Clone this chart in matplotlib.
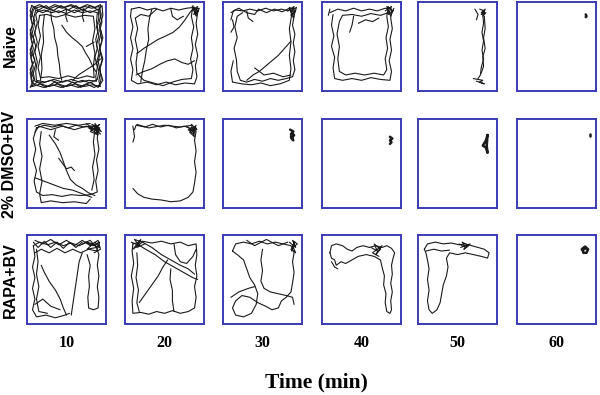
import matplotlib
matplotlib.use("Agg")
import matplotlib.pyplot as plt

# ---------------- data: tracked paths (normalised arena coords, y up) ----------------
groups = ["Naive", "2% DMSO+BV", "RAPA+BV"]
times = ["10", "20", "30", "40", "50", "60"]
xlabel = "Time (min)"

naive_10 = [
    [(0.10,0.93),(0.18,0.95),(0.27,0.92),(0.36,0.95),(0.45,0.93),(0.55,0.96),(0.64,0.92),(0.73,0.95),(0.82,0.93),(0.91,0.95),(0.94,0.86),(0.91,0.76),(0.94,0.66),(0.91,0.55),(0.93,0.44),(0.90,0.33),(0.93,0.22),(0.91,0.11),(0.93,0.05),(0.83,0.07),(0.72,0.05),(0.61,0.08),(0.50,0.05),(0.39,0.08),(0.28,0.05),(0.17,0.08),(0.07,0.05),(0.05,0.15),(0.08,0.26),(0.05,0.37),(0.08,0.48),(0.05,0.59),(0.08,0.70),(0.05,0.81),(0.08,0.91),(0.10,0.93)],
    [(0.13,0.89),(0.22,0.91),(0.31,0.88),(0.40,0.90),(0.50,0.87),(0.60,0.91),(0.70,0.88),(0.80,0.90),(0.89,0.88),(0.88,0.78),(0.90,0.68),(0.87,0.58),(0.89,0.48),(0.86,0.38),(0.89,0.27),(0.87,0.16),(0.88,0.11),(0.78,0.12),(0.67,0.10),(0.56,0.13),(0.45,0.10),(0.34,0.13),(0.23,0.10),(0.12,0.12),(0.11,0.22),(0.13,0.33),(0.10,0.44),(0.13,0.55),(0.10,0.66),(0.13,0.77),(0.11,0.86),(0.13,0.89)],
    [(0.06,0.96),(0.15,0.91),(0.24,0.96),(0.33,0.90),(0.43,0.96),(0.52,0.91),(0.62,0.96),(0.71,0.90),(0.80,0.96),(0.90,0.91),(0.95,0.96),(0.96,0.85),(0.92,0.72),(0.96,0.60),(0.92,0.48),(0.96,0.36),(0.92,0.24),(0.96,0.12),(0.90,0.04),(0.80,0.10),(0.68,0.04),(0.58,0.10),(0.46,0.04),(0.35,0.10),(0.24,0.04),(0.13,0.10),(0.04,0.04),(0.09,0.13),(0.04,0.24),(0.10,0.35),(0.04,0.46),(0.09,0.57),(0.04,0.68),(0.10,0.79),(0.04,0.90),(0.06,0.96)],
    [(0.08,0.94),(0.16,0.97),(0.26,0.93),(0.35,0.97),(0.46,0.94),(0.56,0.97),(0.66,0.93),(0.76,0.97),(0.86,0.94),(0.93,0.97),(0.92,0.88),(0.95,0.78),(0.92,0.68),(0.95,0.57),(0.92,0.46),(0.95,0.35),(0.92,0.25),(0.94,0.14),(0.92,0.07),(0.85,0.04),(0.75,0.08),(0.65,0.04),(0.54,0.07),(0.43,0.04),(0.32,0.07),(0.21,0.04),(0.10,0.07),(0.07,0.10),(0.04,0.20),(0.07,0.31),(0.04,0.42),(0.07,0.53),(0.04,0.64),(0.07,0.75),(0.04,0.85),(0.08,0.94)],
    [(0.11,0.91),(0.20,0.88),(0.30,0.92),(0.40,0.88),(0.50,0.92),(0.60,0.88),(0.70,0.92),(0.80,0.88),(0.90,0.92),(0.91,0.82),(0.88,0.72),(0.91,0.62),(0.88,0.52),(0.91,0.42),(0.88,0.32),(0.91,0.22),(0.89,0.13),(0.80,0.09),(0.70,0.12),(0.60,0.09),(0.50,0.12),(0.40,0.09),(0.30,0.12),(0.20,0.09),(0.10,0.11),(0.08,0.20),(0.11,0.30),(0.08,0.40),(0.11,0.50),(0.08,0.60),(0.11,0.70),(0.08,0.80),(0.11,0.91)],
    [(0.16,0.85),(0.14,0.74),(0.17,0.62),(0.14,0.50),(0.17,0.38),(0.14,0.26),(0.17,0.15),(0.28,0.16),(0.40,0.14),(0.52,0.17),(0.64,0.14),(0.76,0.17),(0.85,0.15),(0.84,0.28),(0.86,0.42),(0.83,0.56),(0.86,0.70),(0.84,0.84),(0.73,0.85),(0.61,0.83),(0.49,0.86),(0.37,0.83),(0.25,0.86),(0.16,0.85)],
    [(0.30,0.90),(0.31,0.80),(0.34,0.70),(0.35,0.60),(0.38,0.50),(0.39,0.40),(0.41,0.30),(0.42,0.20),(0.44,0.12)],
    [(0.44,0.74),(0.50,0.66),(0.57,0.60),(0.64,0.55),(0.70,0.50),(0.74,0.43),(0.79,0.36),(0.83,0.28),(0.87,0.22)],
    [(0.93,0.36),(0.86,0.30),(0.79,0.26),(0.72,0.22),(0.65,0.18),(0.58,0.12)],
    [(0.22,0.86),(0.20,0.70),(0.21,0.55),(0.18,0.40),(0.19,0.25),(0.17,0.12)],
    [(0.50,0.91),(0.49,0.84),(0.51,0.78)],
    [(0.72,0.93),(0.70,0.84),(0.72,0.78)],
    [(0.85,0.55),(0.75,0.50)],
]
naive_20 = [
    [(0.08,0.92),(0.18,0.94),(0.28,0.91),(0.38,0.93),(0.48,0.90),(0.58,0.93),(0.68,0.91),(0.78,0.93),(0.88,0.94),(0.92,0.88),(0.90,0.76),(0.92,0.64),(0.89,0.52),(0.92,0.40),(0.89,0.28),(0.91,0.16),(0.88,0.08),(0.76,0.09),(0.64,0.07),(0.52,0.10),(0.40,0.07),(0.28,0.10),(0.16,0.08),(0.08,0.12),(0.10,0.24),(0.07,0.36),(0.10,0.48),(0.07,0.60),(0.10,0.72),(0.07,0.84),(0.08,0.92)],
    [(0.86,0.96),(0.84,0.84),(0.87,0.72),(0.84,0.60),(0.86,0.48),(0.83,0.36),(0.86,0.24),(0.84,0.14),(0.72,0.13),(0.60,0.10),(0.48,0.06),(0.36,0.09),(0.24,0.12),(0.15,0.20),(0.14,0.32),(0.16,0.45),(0.13,0.58),(0.16,0.70),(0.13,0.82),(0.20,0.86),(0.30,0.84),(0.40,0.92)],
    [(0.34,0.92),(0.31,0.82),(0.29,0.70),(0.30,0.58),(0.27,0.46),(0.25,0.34),(0.22,0.22),(0.20,0.10)],
    [(0.15,0.42),(0.24,0.48),(0.33,0.53),(0.42,0.58),(0.52,0.62),(0.61,0.66),(0.69,0.72),(0.76,0.80),(0.82,0.88),(0.88,0.94)],
    [(0.14,0.18),(0.24,0.22),(0.34,0.25),(0.44,0.30),(0.54,0.34),(0.63,0.36),(0.72,0.32),(0.80,0.30),(0.88,0.34)],
    [(0.58,0.92),(0.60,0.84),(0.66,0.80),(0.74,0.84)],
    [(0.84,0.90),(0.92,0.95),(0.87,0.86),(0.93,0.90),(0.85,0.95),(0.90,0.84),(0.94,0.93),(0.88,0.92),(0.91,0.87)],
]
naive_30 = [
    [(0.10,0.88),(0.16,0.91),(0.25,0.90),(0.34,0.92),(0.44,0.90),(0.54,0.93),(0.64,0.90),(0.74,0.92),(0.82,0.90),(0.88,0.93),(0.90,0.84),(0.88,0.74),(0.91,0.64),(0.89,0.54),(0.91,0.44),(0.89,0.34),(0.91,0.24),(0.88,0.16),(0.80,0.14),(0.70,0.12),(0.60,0.14),(0.50,0.11),(0.40,0.13),(0.30,0.10),(0.22,0.12),(0.18,0.22),(0.17,0.35),(0.14,0.48),(0.18,0.60),(0.15,0.72),(0.18,0.84),(0.25,0.88)],
    [(0.10,0.80),(0.13,0.90),(0.20,0.93),(0.30,0.88),(0.40,0.86),(0.45,0.92),(0.55,0.88),(0.65,0.92),(0.75,0.89),(0.84,0.93),(0.87,0.86),(0.84,0.70),(0.86,0.55),(0.84,0.40),(0.86,0.25),(0.84,0.12),(0.72,0.08),(0.60,0.06),(0.48,0.09),(0.36,0.07),(0.24,0.08),(0.12,0.10),(0.10,0.22),(0.13,0.34)],
    [(0.30,0.12),(0.38,0.18),(0.46,0.22),(0.54,0.28),(0.62,0.34),(0.70,0.40),(0.78,0.48),(0.86,0.56)],
    [(0.40,0.26),(0.52,0.18),(0.64,0.20),(0.76,0.16),(0.86,0.18)],
    [(0.12,0.80),(0.14,0.72),(0.10,0.66)],
    [(0.30,0.90),(0.32,0.82),(0.38,0.78)],
    [(0.82,0.90),(0.90,0.95),(0.86,0.85),(0.92,0.90),(0.84,0.94),(0.89,0.82),(0.93,0.94),(0.86,0.90)],
]
naive_40 = [
    [(0.10,0.88),(0.20,0.92),(0.30,0.90),(0.40,0.93),(0.50,0.90),(0.60,0.92),(0.70,0.90),(0.80,0.93),(0.88,0.92),(0.87,0.82),(0.89,0.70),(0.86,0.58),(0.88,0.46),(0.85,0.34),(0.88,0.22),(0.86,0.12),(0.74,0.13),(0.62,0.15),(0.50,0.12),(0.38,0.14),(0.26,0.12),(0.16,0.14),(0.14,0.26),(0.16,0.38),(0.12,0.50),(0.15,0.62),(0.12,0.74),(0.14,0.86)],
    [(0.84,0.95),(0.82,0.84),(0.84,0.72),(0.81,0.60),(0.83,0.48),(0.80,0.36),(0.82,0.24),(0.78,0.18),(0.66,0.20),(0.54,0.18),(0.42,0.20),(0.30,0.18),(0.22,0.22),(0.20,0.36),(0.22,0.50),(0.19,0.64),(0.22,0.78),(0.26,0.85),(0.38,0.86),(0.50,0.84),(0.62,0.87),(0.74,0.85),(0.84,0.88)],
    [(0.40,0.84),(0.38,0.74),(0.35,0.66)],
    [(0.46,0.76),(0.55,0.80),(0.64,0.78),(0.72,0.82)],
    [(0.80,0.90),(0.88,0.95),(0.84,0.86),(0.90,0.90),(0.82,0.95),(0.87,0.84),(0.91,0.93)],
    [(0.10,0.92),(0.08,0.85)],
]
naive_50 = [
    [(0.72,0.92),(0.76,0.86),(0.74,0.80)],
    [(0.78,0.92),(0.84,0.90),(0.80,0.86),(0.86,0.88),(0.82,0.84),(0.85,0.92),(0.80,0.88)],
    [(0.82,0.86),(0.83,0.76),(0.81,0.66),(0.83,0.56),(0.81,0.46),(0.83,0.36),(0.80,0.26),(0.79,0.18),(0.76,0.14)],
    [(0.84,0.84),(0.85,0.70),(0.83,0.60),(0.85,0.48),(0.82,0.38),(0.83,0.28),(0.80,0.20)],
    [(0.70,0.14),(0.76,0.13),(0.82,0.12),(0.78,0.10),(0.84,0.08),(0.74,0.11)],
]
naive_60 = [
    [(0.87,0.86),(0.88,0.84),(0.87,0.83)],
]
dmso_10 = [
    [(0.12,0.90),(0.22,0.93),(0.32,0.91),(0.42,0.93),(0.52,0.90),(0.62,0.93),(0.72,0.91),(0.82,0.92),(0.90,0.90),(0.89,0.78),(0.91,0.66),(0.88,0.54),(0.90,0.42),(0.87,0.30),(0.89,0.18),(0.80,0.15),(0.68,0.14),(0.56,0.15),(0.44,0.13),(0.32,0.15),(0.20,0.14),(0.12,0.18),(0.09,0.30),(0.12,0.42),(0.08,0.54),(0.11,0.66),(0.08,0.78),(0.12,0.90)],
    [(0.10,0.85),(0.15,0.92),(0.30,0.88),(0.45,0.92),(0.60,0.88),(0.75,0.92),(0.86,0.88),(0.84,0.74),(0.86,0.60),(0.83,0.46),(0.85,0.32),(0.82,0.20)],
    [(0.18,0.86),(0.16,0.72),(0.19,0.58),(0.16,0.44),(0.19,0.30),(0.16,0.16),(0.18,0.06),(0.30,0.08),(0.45,0.06),(0.60,0.07),(0.75,0.05),(0.80,0.10)],
    [(0.28,0.82),(0.36,0.72),(0.42,0.62),(0.46,0.52),(0.50,0.42),(0.55,0.32),(0.62,0.26),(0.70,0.22),(0.78,0.17),(0.86,0.14)],
    [(0.10,0.34),(0.22,0.30),(0.34,0.26),(0.46,0.22),(0.58,0.20),(0.70,0.16),(0.82,0.12)],
    [(0.40,0.56),(0.50,0.44),(0.56,0.46),(0.60,0.42)],
    [(0.75,0.95),(0.85,0.88),(0.92,0.94),(0.80,0.86),(0.90,0.82),(0.86,0.95),(0.94,0.86),(0.78,0.90),(0.88,0.84),(0.92,0.90),(0.82,0.94),(0.90,0.88),(0.84,0.92),(0.93,0.83),(0.80,0.92)],
    [(0.36,0.88),(0.34,0.80),(0.40,0.76)],
    [(0.10,0.92),(0.20,0.95),(0.35,0.93),(0.50,0.95),(0.65,0.93),(0.80,0.95)],
]
dmso_20 = [
    [(0.12,0.88),(0.14,0.93),(0.25,0.91),(0.35,0.94),(0.45,0.91),(0.55,0.93),(0.65,0.90),(0.75,0.92),(0.84,0.89),(0.90,0.86),(0.88,0.76),(0.90,0.64),(0.88,0.52),(0.90,0.40),(0.88,0.28),(0.86,0.18),(0.80,0.12),(0.70,0.08),(0.58,0.07),(0.46,0.09),(0.34,0.10),(0.24,0.12),(0.16,0.16),(0.10,0.22)],
    [(0.15,0.94),(0.30,0.90),(0.50,0.93),(0.70,0.91),(0.85,0.93)],
    [(0.10,0.92),(0.12,0.80),(0.10,0.74)],
    [(0.78,0.92),(0.86,0.86),(0.90,0.93),(0.82,0.85),(0.88,0.80),(0.84,0.94),(0.91,0.88),(0.80,0.88),(0.87,0.83),(0.90,0.90),(0.83,0.90)],
]
dmso_30 = [
    [(0.85,0.88),(0.89,0.86),(0.86,0.83),(0.90,0.82),(0.87,0.78),(0.89,0.76),(0.86,0.80),(0.88,0.84)],
]
dmso_40 = [
    [(0.86,0.80),(0.89,0.78),(0.86,0.76),(0.88,0.74),(0.86,0.72)],
]
dmso_50 = [
    [(0.88,0.82),(0.86,0.76),(0.82,0.70),(0.86,0.68),(0.88,0.62),(0.87,0.70),(0.88,0.82)],
]
dmso_60 = [
    [(0.92,0.83),(0.92,0.81)],
]
rapa_10 = [
    [(0.08,0.88),(0.16,0.92),(0.26,0.89),(0.36,0.92),(0.46,0.88),(0.56,0.91),(0.66,0.88),(0.76,0.92),(0.86,0.89),(0.92,0.92),(0.88,0.82),(0.78,0.84),(0.68,0.80),(0.58,0.84),(0.48,0.80),(0.38,0.85),(0.28,0.80),(0.18,0.84),(0.10,0.80)],
    [(0.10,0.94),(0.20,0.90),(0.30,0.95),(0.40,0.89),(0.50,0.94),(0.60,0.88),(0.70,0.94),(0.80,0.88),(0.90,0.94),(0.93,0.84),(0.85,0.80)],
    [(0.08,0.88),(0.10,0.76),(0.07,0.64),(0.10,0.52),(0.07,0.40),(0.10,0.28),(0.07,0.16),(0.12,0.08),(0.24,0.10),(0.36,0.07),(0.48,0.10),(0.54,0.12)],
    [(0.12,0.84),(0.14,0.70),(0.12,0.56),(0.15,0.42),(0.12,0.28),(0.15,0.14),(0.26,0.12)],
    [(0.18,0.66),(0.22,0.58),(0.28,0.48),(0.36,0.38),(0.42,0.28),(0.46,0.18),(0.50,0.10)],
    [(0.70,0.80),(0.66,0.70),(0.64,0.58),(0.62,0.46),(0.60,0.34),(0.58,0.22),(0.56,0.10)],
    [(0.76,0.78),(0.80,0.66),(0.78,0.54),(0.79,0.42),(0.77,0.30),(0.78,0.18),(0.84,0.16),(0.90,0.18),(0.91,0.30),(0.89,0.42),(0.91,0.54),(0.89,0.66),(0.91,0.78),(0.88,0.86)],
    [(0.10,0.22),(0.20,0.28),(0.30,0.20),(0.42,0.16)],
    [(0.70,0.90),(0.80,0.94),(0.88,0.86),(0.76,0.84),(0.86,0.92),(0.92,0.86),(0.74,0.92),(0.84,0.88),(0.90,0.91)],
    [(0.08,0.92),(0.14,0.86),(0.22,0.93),(0.30,0.86),(0.38,0.92),(0.46,0.85),(0.54,0.92),(0.62,0.86),(0.70,0.92)],
]
rapa_20 = [
    [(0.08,0.92),(0.18,0.88),(0.12,0.95),(0.22,0.92),(0.10,0.84),(0.20,0.95),(0.15,0.86),(0.25,0.90)],
    [(0.10,0.90),(0.22,0.93),(0.34,0.91),(0.46,0.93),(0.58,0.90),(0.70,0.92),(0.80,0.88),(0.90,0.90),(0.91,0.78),(0.89,0.66),(0.91,0.54),(0.88,0.42),(0.90,0.30),(0.88,0.18),(0.80,0.14),(0.70,0.12),(0.60,0.15),(0.50,0.12),(0.40,0.14),(0.30,0.11),(0.20,0.13),(0.10,0.12),(0.09,0.26),(0.11,0.40),(0.08,0.54),(0.11,0.68),(0.09,0.82),(0.10,0.90)],
    [(0.15,0.90),(0.26,0.84),(0.38,0.78),(0.50,0.70),(0.62,0.64),(0.74,0.58),(0.86,0.52),(0.92,0.50)],
    [(0.22,0.92),(0.34,0.86),(0.46,0.78),(0.58,0.72),(0.70,0.66),(0.80,0.62),(0.88,0.56)],
    [(0.18,0.24),(0.26,0.34),(0.34,0.44),(0.42,0.54),(0.48,0.64),(0.54,0.72)],
    [(0.58,0.62),(0.57,0.50),(0.60,0.38),(0.60,0.26),(0.62,0.14)],
    [(0.62,0.90),(0.64,0.78),(0.70,0.70),(0.78,0.68),(0.86,0.76),(0.90,0.84)],
    [(0.15,0.80),(0.16,0.66),(0.14,0.52),(0.17,0.38),(0.15,0.24),(0.18,0.14)],
]
rapa_30 = [
    [(0.12,0.82),(0.16,0.90),(0.26,0.92),(0.36,0.90),(0.46,0.93),(0.56,0.90),(0.66,0.92),(0.76,0.90),(0.86,0.88),(0.90,0.80),(0.88,0.70),(0.90,0.58),(0.88,0.46),(0.86,0.36),(0.80,0.30),(0.74,0.26),(0.70,0.18),(0.62,0.16),(0.54,0.20),(0.44,0.24),(0.34,0.30),(0.24,0.32),(0.16,0.26),(0.12,0.18),(0.16,0.10),(0.26,0.08),(0.36,0.12),(0.42,0.22),(0.44,0.34),(0.40,0.44),(0.34,0.52),(0.30,0.62),(0.26,0.72),(0.18,0.78),(0.12,0.82)],
    [(0.50,0.84),(0.48,0.72),(0.50,0.60),(0.48,0.48),(0.52,0.40),(0.60,0.36),(0.70,0.34),(0.80,0.32),(0.88,0.30),(0.90,0.22)],
    [(0.30,0.94),(0.40,0.88),(0.55,0.95),(0.70,0.88),(0.82,0.92)],
    [(0.84,0.92),(0.92,0.86),(0.88,0.94),(0.94,0.90),(0.86,0.84),(0.92,0.80),(0.88,0.88),(0.91,0.92),(0.87,0.82)],
    [(0.10,0.30),(0.20,0.36),(0.32,0.40),(0.40,0.42)],
]
rapa_40 = [
    [(0.10,0.80),(0.12,0.88),(0.18,0.90),(0.26,0.88),(0.32,0.84),(0.38,0.82),(0.44,0.86),(0.52,0.88),(0.60,0.86),(0.68,0.88),(0.76,0.86),(0.82,0.88),(0.88,0.85),(0.92,0.80),(0.90,0.74),(0.88,0.66),(0.89,0.56),(0.87,0.46),(0.89,0.36),(0.87,0.26),(0.88,0.16),(0.86,0.12),(0.82,0.14),(0.80,0.24),(0.81,0.34),(0.78,0.44),(0.79,0.54),(0.76,0.64),(0.74,0.72),(0.66,0.76),(0.56,0.78),(0.46,0.76),(0.38,0.72),(0.30,0.68),(0.24,0.70),(0.18,0.66),(0.16,0.72),(0.12,0.74),(0.10,0.80)],
    [(0.62,0.86),(0.70,0.82),(0.66,0.90),(0.74,0.84),(0.68,0.78),(0.76,0.88),(0.64,0.80),(0.72,0.76)],
    [(0.12,0.70),(0.16,0.64),(0.20,0.62)],
]
rapa_50 = [
    [(0.08,0.84),(0.12,0.90),(0.22,0.92),(0.32,0.90),(0.42,0.91),(0.52,0.89),(0.60,0.90),(0.68,0.88),(0.76,0.86),(0.84,0.84),(0.90,0.80),(0.88,0.74),(0.80,0.76),(0.70,0.78),(0.60,0.80),(0.50,0.78),(0.40,0.80),(0.36,0.74),(0.38,0.64),(0.36,0.54),(0.32,0.44),(0.30,0.34),(0.28,0.24),(0.24,0.16),(0.18,0.12),(0.14,0.16),(0.12,0.26),(0.14,0.38),(0.12,0.50),(0.14,0.62),(0.12,0.72),(0.10,0.80),(0.08,0.84)],
    [(0.10,0.82),(0.20,0.84),(0.30,0.82),(0.40,0.83)],
    [(0.52,0.90),(0.60,0.86),(0.56,0.92),(0.64,0.88),(0.58,0.84),(0.66,0.90),(0.54,0.86)],
]
rapa_60 = [
    [(0.82,0.84),(0.86,0.87),(0.90,0.84),(0.88,0.80),(0.84,0.80),(0.83,0.83),(0.87,0.85)],
]

panels = [
    [naive_10, naive_20, naive_30, naive_40, naive_50, naive_60],
    [dmso_10, dmso_20, dmso_30, dmso_40, dmso_50, dmso_60],
    [rapa_10, rapa_20, rapa_30, rapa_40, rapa_50, rapa_60],
]

# ---------------- layout ----------------
W, H = 600, 395
fig = plt.figure(figsize=(W / 100, H / 100), dpi=100)
fig.patch.set_facecolor("white")

col_left = [27, 125, 223, 322, 418, 517]
row_top = [2, 119, 235]
box_w, box_h = 79, 89
box_color = "#3b3bb8"

for r, top in enumerate(row_top):
    for c, left in enumerate(col_left):
        ax = fig.add_axes([left / W, 1 - (top + box_h) / H, box_w / W, box_h / H])
        ax.set_xlim(0, 1)
        ax.set_ylim(0, 1)
        ax.set_xticks([])
        ax.set_yticks([])
        for sp in ax.spines.values():
            sp.set_color(box_color)
            sp.set_linewidth(1.4)
        paths = panels[r][c]
        small = len(paths) == 1 and len(paths[0]) < 10
        for p in paths:
            xs = [pt[0] for pt in p]
            ys = [pt[1] for pt in p]
            ax.plot(xs, ys, color="#1a1a1a", lw=(1.8 if small else 0.8),
                    solid_joinstyle="round", solid_capstyle="round")

# row labels
row_label_y = [46, 164, 280]
for lab, y in zip(groups, row_label_y):
    fig.text(10 / W, 1 - y / H, lab, rotation=90, ha="center", va="center",
             fontsize=11.5, fontweight="bold", family="Liberation Sans")

# column labels
for lab, left in zip(times, col_left):
    fig.text((left + box_w / 2) / W, 1 - 343 / H, lab, ha="center", va="center",
             fontsize=11.5, fontweight="bold", family="Liberation Serif")

fig.text(316 / W, 1 - 382 / H, xlabel, ha="center", va="center",
         fontsize=15.5, fontweight="bold", family="Liberation Serif")

fig.savefig("out.png", dpi=100, facecolor="white")
